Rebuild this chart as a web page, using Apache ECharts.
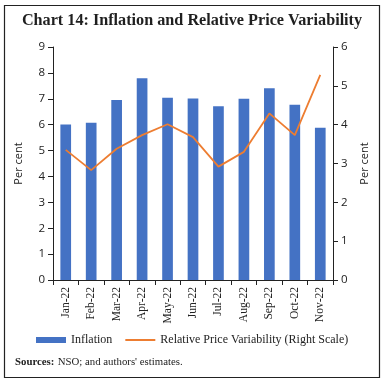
<!DOCTYPE html>
<html><head><meta charset="utf-8">
<script src="https://cdn.jsdelivr.net/npm/echarts@6/dist/echarts.min.js"></script>
<style>html,body{margin:0;padding:0;background:#fff}#c{width:384px;height:382px}</style>
</head><body><div id="c"></div>
<script>
const categories = ['Jan-22','Feb-22','Mar-22','Apr-22','May-22','Jun-22','Jul-22','Aug-22','Sep-22','Oct-22','Nov-22'];
const inflation = [6.01, 6.07, 6.95, 7.79, 7.04, 7.01, 6.71, 7.00, 7.41, 6.77, 5.88];
const rpv = [3.35, 2.83, 3.38, 3.73, 4.01, 3.68, 2.92, 3.30, 4.29, 3.73, 5.28];
const leftTicks = [0,1,2,3,4,5,6,7,8,9];
const rightTicks = [0,1,2,3,4,5,6];

const serif = '"Liberation Serif", "DejaVu Serif", serif';
const sans = '"Open Sans", "Noto Sans", sans-serif';
const chart = echarts.init(document.getElementById('c'), null, {renderer:'canvas'});
chart.setOption({
  animation: false,
  backgroundColor: '#fff',
  graphic: [
    {type:'rect', shape:{x:4.5, y:5.5, width:375, height:372}, style:{fill:'none', stroke:'#222', lineWidth:1.2}},
    {type:'text', left:'center', top:13, style:{text:'Chart 14: Inflation and Relative Price Variability', font:'bold 16.2px ' + serif, fill:'#1f1f1f'}},
    {type:'text', left:15, top:356, style:{rich:{b:{font:'bold 10.8px ' + serif, fill:'#222'}, n:{font:'10.8px ' + serif, fill:'#222'}}, text:'{b|Sources:} {n|NSO; and authors\' estimates.}'}}
  ],
  grid: {left:53, right:51, top:47, bottom:102, containLabel:false},
  legend: {
    bottom: 31, left: 31, itemGap: 13, itemWidth: 30, itemHeight: 6,
    textStyle: {fontFamily: serif, fontSize: 12, color:'#222'},
    data: [
      {name:'Inflation', icon:'rect'},
      {name:'Relative Price Variability (Right Scale)', icon:'path://M0,0 L30,0 L30,2 L0,2 Z', itemStyle:{color:'#ED7D31'}}
    ]
  },
  xAxis: {
    type:'category', data: categories,
    axisLine:{lineStyle:{color:'#222', width:1}},
    axisTick:{show:true, alignWithLabel:false, length:5, lineStyle:{color:'#222'}},
    axisLabel:{rotate:90, interval:0, fontFamily: serif, fontSize:11.5, color:'#222', margin:7}
  },
  yAxis: [
    {type:'value', min:0, max:9, interval:1, name:'Per cent', nameLocation:'middle', nameGap:29,
     nameTextStyle:{fontFamily:sans, fontSize:11, color:'#222'},
     axisLine:{show:true, lineStyle:{color:'#222'}}, axisTick:{show:true, length:5, lineStyle:{color:'#222'}},
     splitLine:{show:false}, axisLabel:{fontFamily:sans, fontSize:11.5, color:'#222', margin:8,
       formatter: v => leftTicks.includes(v) ? String(v) : ''}},
    {type:'value', min:0, max:6, interval:1, name:'Per cent', nameLocation:'middle', nameGap:26, nameRotate:90,
     nameTextStyle:{fontFamily:sans, fontSize:11, color:'#222'},
     axisLine:{show:true, lineStyle:{color:'#222'}}, axisTick:{show:true, length:5, lineStyle:{color:'#222'}},
     splitLine:{show:false}, axisLabel:{fontFamily:sans, fontSize:11.5, color:'#222', margin:8,
       formatter: v => rightTicks.includes(v) ? String(v) : ''}}
  ],
  series: [
    {name:'Inflation', type:'bar', data: inflation, barWidth:'42%', itemStyle:{color:'#4472C4'}},
    {name:'Relative Price Variability (Right Scale)', type:'line', yAxisIndex:1, data: rpv, symbol:'none',
     lineStyle:{color:'#ED7D31', width:1.8}, itemStyle:{color:'#ED7D31'}}
  ]
});
</script></body></html>
